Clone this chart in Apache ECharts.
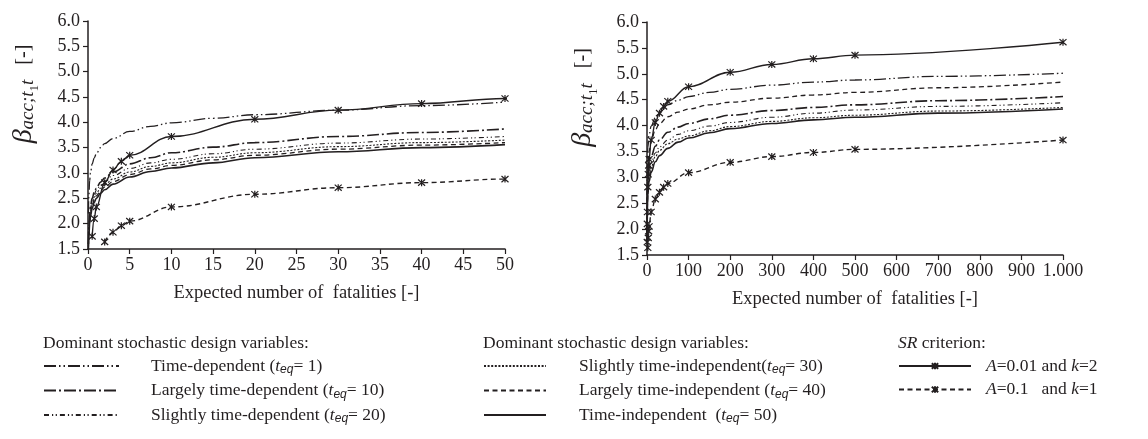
<!DOCTYPE html>
<html>
<head>
<meta charset="utf-8">
<script src="https://cdn.jsdelivr.net/npm/echarts@6.0.0/dist/echarts.min.js"></script>
<style>
  html, body { margin: 0; padding: 0; background: #fff; }
  #chart { width: 1148px; height: 439px; }
</style>
</head>
<body>
<div id="chart"></div>
<script>
// expected number of fatalities (x) and reliability index (y)
const leftN = [0.05, 0.1, 0.2, 0.3, 0.5, 0.75, 1, 1.5, 2, 3, 5, 7.5, 10, 15, 20, 30, 40, 50];
const leftTeq1  = [2.2, 2.55, 2.85, 3.0, 3.18, 3.3, 3.38, 3.5, 3.58, 3.68, 3.82, 3.92, 3.99, 4.08, 4.15, 4.24, 4.33, 4.4];
const leftTeq10 = [1.6, 1.9, 2.2, 2.35, 2.5, 2.62, 2.7, 2.82, 2.9, 3.02, 3.18, 3.3, 3.4, 3.51, 3.6, 3.72, 3.8, 3.87];
const leftTeq20 = [1.65, 1.9, 2.15, 2.3, 2.47, 2.58, 2.66, 2.76, 2.84, 2.95, 3.09, 3.2, 3.27, 3.38, 3.47, 3.59, 3.67, 3.72];
const leftTeq30 = [1.6, 1.85, 2.1, 2.25, 2.41, 2.52, 2.6, 2.7, 2.77, 2.88, 3.02, 3.13, 3.2, 3.31, 3.4, 3.52, 3.6, 3.65];
const leftTeq40 = [1.55, 1.8, 2.05, 2.2, 2.36, 2.47, 2.55, 2.65, 2.72, 2.83, 2.97, 3.08, 3.15, 3.26, 3.35, 3.47, 3.55, 3.6];
const leftTeq50 = [1.5, 1.75, 2.0, 2.15, 2.3, 2.42, 2.5, 2.6, 2.67, 2.78, 2.92, 3.03, 3.1, 3.2, 3.3, 3.42, 3.5, 3.56];

const rightN = [0.1, 0.5, 1, 2, 5, 10, 20, 30, 50, 75, 100, 150, 200, 300, 400, 500, 700, 1000];
const rightTeq1  = [2.55, 3.18, 3.38, 3.58, 3.82, 3.99, 4.15, 4.24, 4.4, 4.49, 4.56, 4.64, 4.7, 4.78, 4.84, 4.88, 4.95, 5.01];
const rightTeq10 = [1.9, 2.5, 2.7, 2.9, 3.18, 3.4, 3.6, 3.72, 3.87, 3.97, 4.04, 4.13, 4.2, 4.29, 4.35, 4.4, 4.48, 4.56];
const rightTeq20 = [1.9, 2.47, 2.66, 2.84, 3.09, 3.27, 3.47, 3.59, 3.72, 3.83, 3.9, 3.99, 4.06, 4.16, 4.24, 4.3, 4.37, 4.44];
const rightTeq30 = [1.85, 2.41, 2.6, 2.77, 3.02, 3.2, 3.4, 3.52, 3.65, 3.74, 3.8, 3.9, 3.98, 4.08, 4.15, 4.2, 4.28, 4.35];
const rightTeq40 = [2.0, 2.75, 2.95, 3.2, 3.5, 3.7, 3.92, 4.04, 4.17, 4.26, 4.32, 4.4, 4.45, 4.53, 4.59, 4.64, 4.73, 4.84];
const rightTeq50 = [1.75, 2.3, 2.5, 2.67, 2.92, 3.1, 3.3, 3.42, 3.56, 3.68, 3.76, 3.86, 3.94, 4.04, 4.11, 4.16, 4.24, 4.32];

// SR criterion curves (same in both panels, left one is clipped at 50)
const srStrictN    = [0.5, 0.75, 1, 2, 3, 4, 5, 10, 20, 30, 40, 50, 100, 200, 300, 400, 500, 1000];
const srStrictBeta = [1.75, 2.1, 2.33, 2.81, 3.06, 3.23, 3.35, 3.72, 4.06, 4.24, 4.37, 4.47, 4.75, 5.03, 5.18, 5.29, 5.36, 5.61];
const srLooseN     = [2, 3, 4, 5, 10, 20, 30, 40, 50, 100, 200, 300, 400, 500, 1000];
const srLooseBeta  = [1.64, 1.83, 1.96, 2.05, 2.33, 2.58, 2.71, 2.81, 2.88, 3.09, 3.29, 3.4, 3.48, 3.54, 3.72];

const yTickLabels = ['1.5', '2.0', '2.5', '3.0', '3.5', '4.0', '4.5', '5.0', '5.5', '6.0'];
const leftXTickLabels = ['0', '5', '10', '15', '20', '25', '30', '35', '40', '45', '50'];
const rightXTickLabels = ['0', '100', '200', '300', '400', '500', '600', '700', '800', '900', '1.000'];

const seriesNames = [
  'Time-dependent (t_eq= 1)',
  'Largely time-dependent (t_eq= 10)',
  'Slightly time-dependent (t_eq= 20)',
  'Slightly time-independent(t_eq= 30)',
  'Largely time-independent (t_eq= 40)',
  'Time-independent (t_eq= 50)',
  'A=0.01 and k=2',
  'A=0.1   and k=1'
];
const legendLabels = [
  '{gap|}{r|Time-dependent (}{i|t}{sub|eq}{r|= 1)}',
  '{gap|}{r|Largely time-dependent (}{i|t}{sub|eq}{r|= 10)}',
  '{gap|}{r|Slightly time-dependent (}{i|t}{sub|eq}{r|= 20)}',
  '{gap|}{r|Slightly time-independent(}{i|t}{sub|eq}{r|= 30)}',
  '{gap|}{r|Largely time-independent (}{i|t}{sub|eq}{r|= 40)}',
  '{gap|}{r|Time-independent  (}{i|t}{sub|eq}{r|= 50)}',
  '{gap|}{i|A}{r|=0.01 and }{i|k}{r|=2}',
  '{gap|}{i|A}{r|=0.1   and }{i|k}{r|=1}'
];

const FONT = '"Liberation Serif", "Times New Roman", serif';
const INK = '#231f20';
const STAR = 'path://M0 0L8 8M8 0L0 8M4 -0.5L4 8.5';
const TXT = 17.5;

// line look per series name
const looks = [
  { type: [12, 3, 1.5, 3, 1.5, 3], width: 1.3 },
  { type: [12, 3, 2, 3], width: 1.6 },
  { type: [5, 3, 1.2, 2.5, 1.2, 3], width: 1.1 },
  { type: [2, 1.6], width: 1.1 },
  { type: [5, 3.5], width: 1.3 },
  { type: 'solid', width: 1.6 },
  { type: 'solid', width: 1.4 },
  { type: [5, 3.5], width: 1.4 }
];

function pairs(xs, ys) {
  return xs.map((x, i) => [x, ys[i]]);
}

function curve(k, grid, xs, ys) {
  const sr = k >= 6;
  return {
    name: seriesNames[k],
    type: 'line',
    xAxisIndex: grid,
    yAxisIndex: grid,
    data: pairs(xs, ys),
    smooth: 0.4,
    smoothMonotone: 'x',
    symbol: sr ? STAR : 'none',
    symbolSize: 7,
    showSymbol: sr,
    itemStyle: { color: INK, borderColor: INK, borderWidth: 1.2 },
    lineStyle: { color: INK, width: looks[k].width, type: looks[k].type },
    z: sr ? 3 : 2
  };
}

const leftSets = [leftTeq1, leftTeq10, leftTeq20, leftTeq30, leftTeq40, leftTeq50];
const rightSets = [rightTeq1, rightTeq10, rightTeq20, rightTeq30, rightTeq40, rightTeq50];

const series = [];
leftSets.forEach((ys, k) => series.push(curve(k, 0, leftN, ys)));
series.push(curve(6, 0, srStrictN, srStrictBeta));
series.push(curve(7, 0, srLooseN, srLooseBeta));
rightSets.forEach((ys, k) => series.push(curve(k, 1, rightN, ys)));
series.push(curve(6, 1, srStrictN, srStrictBeta));
series.push(curve(7, 1, srLooseN, srLooseBeta));

const yNameRich = {
  sp: { width: 82 },
  b: { fontFamily: FONT, fontSize: 28, fontStyle: 'italic', lineHeight: 36, color: INK },
  s: { fontFamily: FONT, fontSize: 19, fontStyle: 'italic', verticalAlign: 'bottom', padding: [0, 0, 5, 0], lineHeight: 36, color: INK },
  ss: { fontFamily: FONT, fontSize: 13, verticalAlign: 'bottom', padding: [0, 0, 1, 0], lineHeight: 36, color: INK },
  n: { fontFamily: FONT, fontSize: 20, lineHeight: 36, color: INK }
};

function xAxisOf(grid, max, interval, labels) {
  return {
    gridIndex: grid,
    type: 'value',
    min: 0,
    max: max,
    interval: interval,
    axisLine: { show: true, lineStyle: { color: INK, width: 1.5 } },
    axisTick: { show: true, length: 5, lineStyle: { color: INK, width: 1.2 } },
    splitLine: { show: false },
    axisLabel: {
      color: INK, fontFamily: FONT, fontSize: 18, margin: 7,
      formatter: (v, i) => labels[i]
    },
    name: 'Expected number of  fatalities [-]',
    nameLocation: 'middle',
    nameGap: 35,
    nameTextStyle: { color: INK, fontFamily: FONT, fontSize: 18.5 }
  };
}

function yAxisOf(grid) {
  return {
    gridIndex: grid,
    type: 'value',
    min: 1.5,
    max: 6,
    interval: 0.5,
    axisLine: { show: true, lineStyle: { color: INK, width: 1.5 } },
    axisTick: { show: true, length: 5, lineStyle: { color: INK, width: 1.2 } },
    splitLine: { show: false },
    axisLabel: {
      color: INK, fontFamily: FONT, fontSize: 18, margin: 8,
      formatter: (v, i) => yTickLabels[i]
    },
    name: '{sp|}{b|β}{s|acc;t}{ss|1}{s|t}{n|   [-]}',
    nameLocation: 'middle',
    nameRotate: 90,
    nameGap: 46,
    nameTextStyle: { rich: yNameRich }
  };
}

function legendOf(left, names, itemWidth, gap) {
  return {
    orient: 'vertical',
    left: left,
    top: 357,
    padding: 0,
    itemWidth: itemWidth,
    itemHeight: 8,
    itemGap: 5.5,
    selectedMode: false,
    data: names.map(n => ({ name: n, itemStyle: n.startsWith('A=') ? {} : { opacity: 0 } })),
    formatter: name => legendLabels[seriesNames.indexOf(name)],
    textStyle: {
      rich: {
        gap: { width: gap },
        r: { fontFamily: FONT, fontSize: TXT, lineHeight: 20, color: INK },
        i: { fontFamily: FONT, fontSize: TXT, fontStyle: 'italic', lineHeight: 20, color: INK },
        sub: { fontFamily: '"Liberation Sans", Arial, sans-serif', fontSize: 12, fontStyle: 'italic', verticalAlign: 'bottom', lineHeight: 20, color: INK }
      }
    }
  };
}

const headStyle = {
  color: INK, fontFamily: FONT, fontSize: TXT, fontWeight: 'normal', lineHeight: 20,
  rich: {
    i: { fontFamily: FONT, fontSize: TXT, fontStyle: 'italic', lineHeight: 20, color: INK },
    r: { fontFamily: FONT, fontSize: TXT, lineHeight: 20, color: INK }
  }
};

const chart = echarts.init(document.getElementById('chart'));
chart.setOption({
  animation: false,
  backgroundColor: '#fff',
  title: [
    { text: 'Dominant stochastic design variables:', left: 43, top: 333, padding: 0, textStyle: headStyle },
    { text: 'Dominant stochastic design variables:', left: 483, top: 333, padding: 0, textStyle: headStyle },
    { text: '{i|SR}{r| criterion:}', left: 898, top: 333, padding: 0, textStyle: headStyle }
  ],
  grid: [
    { left: 88, top: 21, width: 417, height: 228 },
    { left: 647, top: 22, width: 416, height: 233 }
  ],
  xAxis: [xAxisOf(0, 50, 5, leftXTickLabels), xAxisOf(1, 1000, 100, rightXTickLabels)],
  yAxis: [yAxisOf(0), yAxisOf(1)],
  legend: [
    legendOf(43, seriesNames.slice(0, 3), 75, 27),
    legendOf(483, seriesNames.slice(3, 6), 62, 28),
    legendOf(898, seriesNames.slice(6, 8), 72, 10)
  ],
  series: series
});
</script>
</body>
</html>
